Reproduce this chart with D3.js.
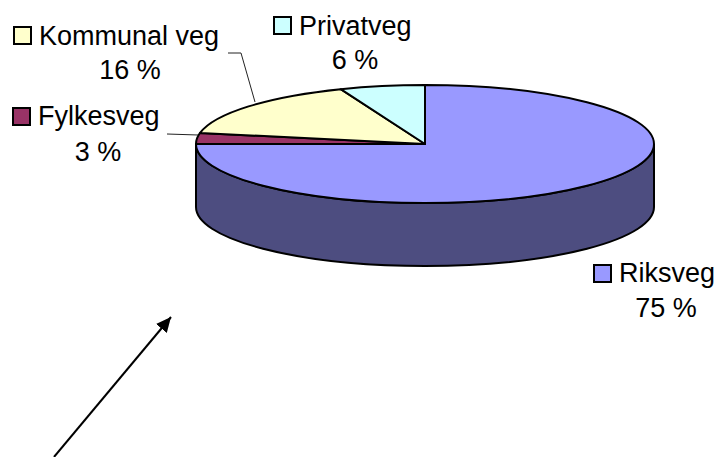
<!DOCTYPE html>
<html>
<head>
<meta charset="utf-8">
<script src="https://cdn.jsdelivr.net/npm/d3@7"></script>
<style>
    body { margin:0; background:#fff; }
    text { font-family:"Liberation Sans", Arial, sans-serif; font-size:27px; fill:#000; }
</style>
</head>
<body>
<svg width="717" height="457"></svg>
<script>
const categories = ['Riksveg', 'Fylkesveg', 'Kommunal veg', 'Privatveg'];
const shares = [75, 3, 16, 6];
const colours = ['#9999ff', '#993366', '#ffffcc', '#ccffff'];

const svg = d3.select('svg');

const cx = 425, cy = 144;
const rx = 229, ry = 59, depth = 63;
const squash = ry / rx;

// legend key + two line label for each slice
const labelLayout = [
    { key:[594,265], name:[619,282], pct:[666,317] },
    { key:[13,108], name:[38,125], pct:[98,161] },
    { key:[14,27], name:[39,45], pct:[130,79] },
    { key:[274,17], name:[299,35], pct:[355,69] }
];

const data = categories.map((name, i) => ({ name, share:shares[i], colour:colours[i], layout:labelLayout[i] }));

const pie = d3.pie().sort(null).value(d => d.share);
const arc = d3.arc().innerRadius(0).outerRadius(rx);

// everything in this group is a flat circle squashed into an ellipse
const g = svg.append('g')
    .attr('transform', `translate(${cx},${cy}) scale(1,${squash})`);

const wall = d3.path();
wall.arc(0, 0, rx, Math.PI, 0, true);
wall.lineTo(rx, depth / squash);
wall.arc(0, depth / squash, rx, 0, Math.PI, false);
wall.closePath();

g.append('path')
    .attr('d', wall.toString())
    .attr('fill', '#4d4d80')
    .attr('stroke', '#000')
    .attr('stroke-width', 2)
    .attr('vector-effect', 'non-scaling-stroke');

g.selectAll('path.slice').data(pie(data))
    .enter().append('path')
        .attr('class', 'slice')
        .attr('d', arc)
        .attr('fill', d => d.data.colour)
        .attr('stroke', '#000')
        .attr('stroke-width', 2)
        .attr('stroke-linejoin', 'round')
        .attr('vector-effect', 'non-scaling-stroke');

// leader lines
const leader = d3.line();
[
    [[228,53],[241,53],[255,102]],
    [[167,134],[198,135]]
].forEach(pts => {
    svg.append('path')
        .attr('d', leader(pts))
        .attr('fill', 'none')
        .attr('stroke', '#222')
        .attr('stroke-width', 1);
});

// labels
svg.selectAll('rect.key').data(data)
    .enter().append('rect')
        .attr('class', 'key')
        .attr('x', d => d.layout.key[0])
        .attr('y', d => d.layout.key[1])
        .attr('width', 17)
        .attr('height', 17)
        .attr('fill', d => d.colour)
        .attr('stroke', '#000')
        .attr('stroke-width', 2);

svg.selectAll('text.name').data(data)
    .enter().append('text')
        .attr('class', 'name')
        .attr('x', d => d.layout.name[0])
        .attr('y', d => d.layout.name[1])
        .text(d => d.name);

svg.selectAll('text.pct').data(data)
    .enter().append('text')
        .attr('class', 'pct')
        .attr('x', d => d.layout.pct[0])
        .attr('y', d => d.layout.pct[1])
        .attr('text-anchor', 'middle')
        .text(d => `${d.share} %`);

// arrow
svg.append('defs').append('marker')
    .attr('id', 'head')
    .attr('markerUnits', 'userSpaceOnUse')
    .attr('viewBox', '0 0 16 16')
    .attr('markerWidth', 16)
    .attr('markerHeight', 16)
    .attr('refX', 15)
    .attr('refY', 8)
    .attr('orient', 'auto')
    .append('path')
        .attr('d', 'M0,1L15,8L0,15Z')
        .attr('fill', '#000');

svg.append('line')
    .attr('x1', 54).attr('y1', 457)
    .attr('x2', 171).attr('y2', 317)
    .attr('stroke', '#000')
    .attr('stroke-width', 2)
    .attr('marker-end', 'url(#head)');
</script>
</body>
</html>
